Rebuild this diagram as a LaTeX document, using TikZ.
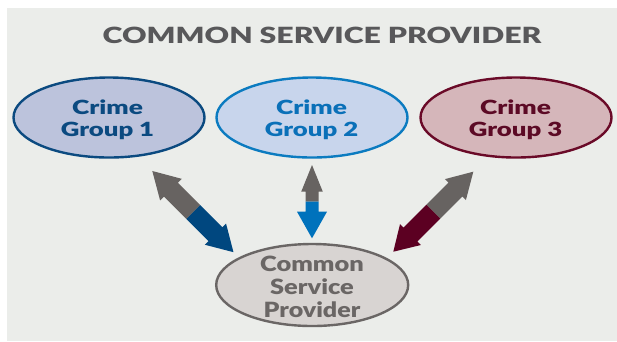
\documentclass[tikz,border=0pt]{standalone}
\usepackage{fontspec}
\usepackage{graphicx}
\setmainfont{Lato}[BoldFont={Lato Black}]
\usetikzlibrary{shapes.geometric}
\definecolor{bgc}{HTML}{EBEDEA}
\definecolor{titlec}{HTML}{58585A}
\definecolor{g1fill}{HTML}{BCC3DC}
\definecolor{g1line}{HTML}{0B4A80}
\definecolor{g2fill}{HTML}{C8D5EC}
\definecolor{g2line}{HTML}{0B7BC0}
\definecolor{g2text}{HTML}{0A70B8}
\definecolor{g3fill}{HTML}{D5B6BA}
\definecolor{g3line}{HTML}{6A0A28}
\definecolor{g3text}{HTML}{5C0A25}
\definecolor{cspfill}{HTML}{D8D4D2}
\definecolor{cspline}{HTML}{6A6665}
\definecolor{arrgray}{HTML}{676361}
\definecolor{arrblue}{HTML}{00477F}
\definecolor{arrmid}{HTML}{0072BC}
\definecolor{arrmaroon}{HTML}{5C0022}
% #1 split point, #2 angle, #3 gray length, #4 colour length, #5 shaft half width,
% #6 gray head half width, #7 gray head length, #8 colour head half width, #9 colour head length
\newcommand{\blockarrowpair}[9]{%
  \begin{scope}[shift={(#1)}, rotate=#2]
    \fill[arrgray] (0,{-(#5)}) -- ({-(#3)+(#7)},{-(#5)}) -- ({-(#3)+(#7)},{-(#6)})
      -- ({-(#3)},0) -- ({-(#3)+(#7)},{#6}) -- ({-(#3)+(#7)},{#5}) -- (0,{#5}) -- cycle;
    \fill[arrcur] (0,{-(#5)}) -- ({(#4)-(#9)},{-(#5)}) -- ({(#4)-(#9)},{-(#8)})
      -- ({#4},0) -- ({(#4)-(#9)},{#8}) -- ({(#4)-(#9)},{#5}) -- (0,{#5}) -- cycle;
  \end{scope}}
\newcommand{\widetext}[2]{\scalebox{#1}[1]{#2}}
\tikzset{
  grp/.style={ellipse, minimum width=191pt, minimum height=80pt, line width=2.4pt, inner sep=0pt},
  lbl/.style={anchor=base, font=\bfseries\fontsize{19.5}{19.5}\selectfont, inner sep=0pt},
  csplbl/.style={anchor=base, font=\bfseries\fontsize{21}{21}\selectfont, inner sep=0pt, text=cspline},
}
\begin{document}
\begin{tikzpicture}[x=1pt, y=-1pt]
  \useasboundingbox (0,0) rectangle (617,341);
  \fill[bgc] (7,8) rectangle (617,341);
  \node[anchor=base, font=\bfseries\fontsize{22.3}{22.3}\selectfont, text=titlec, inner sep=0pt]
    (title) at (322,43.3) {\widetext{1.355}{COMMON SERVICE PROVIDER}};
  % crime groups
  \node[grp, draw=g1line, fill=g1fill] (g1) at (109,117.5) {};
  \node[grp, draw=g2line, fill=g2fill] (g2) at (312,117.5) {};
  \node[grp, draw=g3line, fill=g3fill] (g3) at (516,117.5) {};
  \node[lbl, text=g1line] (g1a) at (107.5,114.5) {\widetext{1.35}{Crime}};
  \node[lbl, text=g1line] (g1b) at (107.5,136.7) {\widetext{1.32}{Group 1}};
  \node[lbl, text=g2text] (g2a) at (311.5,114.5) {\widetext{1.35}{Crime}};
  \node[lbl, text=g2text] (g2b) at (311.5,136.7) {\widetext{1.32}{Group 2}};
  \node[lbl, text=g3text] (g3a) at (515.5,114.5) {\widetext{1.35}{Crime}};
  \node[lbl, text=g3text] (g3b) at (515.5,136.7) {\widetext{1.32}{Group 3}};
  % common service provider
  \node[grp, minimum width=192pt, minimum height=82pt, draw=cspline, fill=cspfill] (csp) at (312.2,285) {};
  \node[csplbl] (cspa) at (312,271.7) {\widetext{1.21}{Common}};
  \node[csplbl] (cspb) at (312,294.3) {\widetext{1.21}{Service}};
  \node[csplbl] (cspc) at (312,317.3) {\widetext{1.19}{Provider}};
  % arrows
  \coordinate (s1) at (193.3,212);
  \coordinate (s2) at (312,201.7);
  \coordinate (s3) at (433.3,211.7);
  \colorlet{arrcur}{arrblue}
  \blockarrowpair{s1}{-45}{58}{56.8}{9.8}{15.3}{26.4}{15}{25.5}
  \colorlet{arrcur}{arrmid}
  \blockarrowpair{s2}{-90}{36.7}{36.6}{6.5}{10.8}{26.7}{15}{26.6}
  \colorlet{arrcur}{arrmaroon}
  \blockarrowpair{s3}{-135}{56.6}{56.6}{9.8}{14.8}{25.3}{14.7}{24.2}
\end{tikzpicture}
\end{document}
